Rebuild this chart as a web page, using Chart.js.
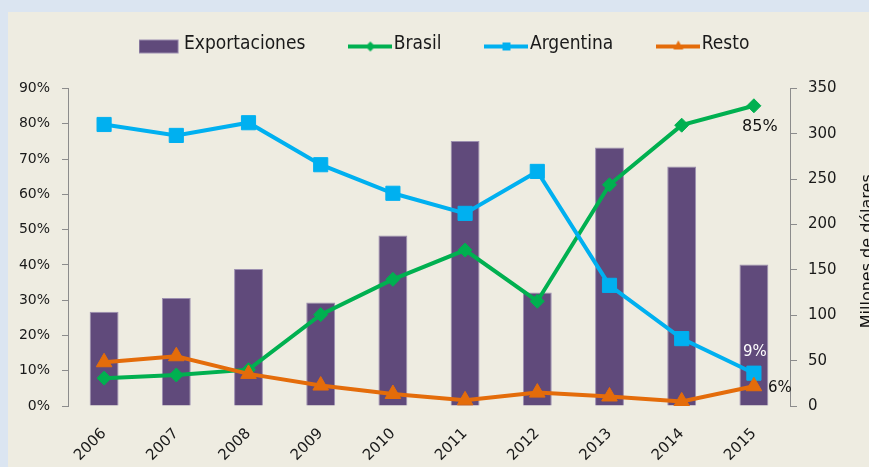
<!DOCTYPE html>
<html><head><meta charset="utf-8">
<script src="https://cdn.jsdelivr.net/npm/chart.js@4"></script>
<style>
html,body{margin:0;padding:0;background:#dbe5f1;overflow:hidden;width:869px;height:467px;}
#panel{position:absolute;left:8px;top:12px;width:880px;height:455px;background:#eeece1;}
canvas{display:block;}
</style></head><body>
<div id="panel"><canvas id="c" width="880" height="455"></canvas></div>
<script>
const categories = ['2006','2007','2008','2009','2010','2011','2012','2013','2014','2015'];
const exportaciones = [104,119,151,114,188,292,125,285,264,156];
const brasil = [7.9,8.8,10.3,25.9,35.9,44.2,29.7,62.7,79.6,85.1];
const argentina = [79.8,76.7,80.3,68.4,60.3,54.6,66.5,34.2,19.1,9.3];
const resto = [12.4,14.1,9.1,5.8,3.4,1.6,3.8,2.7,1.3,5.6];
const seriesNames = ['Exportaciones','Brasil','Argentina','Resto'];
const colors = {bar:'#604a7b', brasil:'#00b050', argentina:'#00b0f0', resto:'#e46c0a'};
const leftMax = 90, leftStep = 10, rightMax = 350, rightStep = 50;
const rightTitle = 'Millones de dólares';

function icon(kind, color){
  const c = document.createElement('canvas');
  c.width = 44; c.height = 22;
  const g = c.getContext('2d');
  const cy = 13;
  if (kind === 'box'){
    g.fillStyle = color; g.fillRect(0, cy-7, 40, 14);
    g.strokeStyle = '#9c8fb0'; g.lineWidth = 1; g.strokeRect(0.5, cy-6.5, 39, 13);
    return c;
  }
  g.strokeStyle = color; g.lineWidth = 4;
  g.beginPath(); g.moveTo(0, cy); g.lineTo(44, cy); g.stroke();
  g.fillStyle = color;
  g.beginPath();
  if (kind === 'diamond'){ g.moveTo(22, cy-5); g.lineTo(27, cy); g.lineTo(22, cy+5); g.lineTo(17, cy); }
  else if (kind === 'square'){ g.rect(18, cy-4, 8, 8); }
  else { g.moveTo(22, cy-6); g.lineTo(27, cy+3); g.lineTo(17, cy+3); }
  g.closePath(); g.fill();
  return c;
}
const icons = [icon('box',colors.bar), icon('diamond',colors.brasil), icon('square',colors.argentina), icon('tri',colors.resto)];

const valueLabels = {
  id:'valueLabels',
  afterDatasetsDraw(chart){
    const ctx = chart.ctx, i = categories.length - 1;
    const pb = chart.getDatasetMeta(1).data[i];
    const pa = chart.getDatasetMeta(2).data[i];
    const pr = chart.getDatasetMeta(3).data[i];
    ctx.save();
    ctx.textAlign = 'center'; ctx.textBaseline = 'middle';
    ctx.font = '16px "DejaVu Sans"'; ctx.fillStyle = '#111';
    ctx.fillText(Math.round(brasil[i]) + '%', pb.x + 6, pb.y + 21);
    ctx.font = '15px "DejaVu Sans"'; ctx.fillStyle = '#ffffff';
    ctx.fillText(Math.round(argentina[i]) + '%', pa.x + 1, pa.y - 21);
    ctx.fillStyle = '#111';
    ctx.fillText(Math.round(resto[i]) + '%', pr.x + 26, pr.y + 2);
    ctx.restore();
  }
};
const rightTitlePlugin = {
  id:'rightTitle',
  afterDraw(chart){
    const ctx = chart.ctx, a = chart.chartArea;
    ctx.save();
    ctx.translate(a.right + 81.5, (a.top + a.bottom)/2 + 4);
    ctx.rotate(-Math.PI/2);
    ctx.font = '16px "DejaVu Sans"'; ctx.fillStyle = '#111';
    ctx.textAlign = 'center'; ctx.textBaseline = 'alphabetic';
    ctx.fillText(rightTitle, 0, 0);
    ctx.restore();
  }
};

const tickFont = {family:'DejaVu Sans', size:14};
new Chart(document.getElementById('c'), {
  type:'bar',
  data:{
    labels: categories,
    datasets:[
      {type:'bar', label:seriesNames[0], data:exportaciones, yAxisID:'y1', backgroundColor:colors.bar, borderColor:'#9c8fb0', borderWidth:1, barPercentage:0.4, categoryPercentage:1, order:4},
      {type:'line', label:seriesNames[1], data:brasil, yAxisID:'y', borderColor:colors.brasil, backgroundColor:colors.brasil, borderWidth:4, pointStyle:'rectRot', pointRadius:7, pointBorderWidth:1, tension:0, order:3},
      {type:'line', label:seriesNames[2], data:argentina, yAxisID:'y', borderColor:colors.argentina, backgroundColor:colors.argentina, borderWidth:4, pointStyle:'rect', pointRadius:10, pointBorderWidth:1, tension:0, order:2},
      {type:'line', label:seriesNames[3], data:resto, yAxisID:'y', borderColor:colors.resto, backgroundColor:colors.resto, borderWidth:4, pointStyle:'triangle', pointRadius:9, pointBorderWidth:1, tension:0, order:1}
    ]
  },
  options:{
    responsive:false, animation:false, devicePixelRatio:1,
    layout:{padding:{top:-28, left:0, right:0, bottom:0}},
    plugins:{
      tooltip:{enabled:false},
      title:{display:true, text:'', weight:500, padding:{top:23.3, bottom:0}, font:{size:1}},
      legend:{
        position:'top',
        labels:{
          usePointStyle:true, pointStyleWidth:28, padding:51,
          font:{family:'DejaVu Sans Condensed', size:19}, color:'#1a1a1a',
          generateLabels(){
            return seriesNames.map((n,i)=>({text:n, pointStyle:icons[i], fillStyle:'rgba(0,0,0,0)', strokeStyle:'rgba(0,0,0,0)', lineWidth:0, hidden:false, datasetIndex:i, fontColor:'#1a1a1a'}));
          }
        }
      }
    },
    scales:{
      x:{
        grid:{display:false}, border:{display:false},
        ticks:{minRotation:45, maxRotation:45, autoSkip:false, font:{family:'DejaVu Sans', size:15}, color:'#1a1a1a', padding:11},
        afterFit(s){ s.height = 61; }
      },
      y:{
        position:'left', min:0, max:leftMax,
        ticks:{stepSize:leftStep, callback:v=>v+'%', font:tickFont, color:'#1a1a1a', padding:12},
        grid:{drawOnChartArea:false, tickLength:6, color:'#8c8c8c'},
        border:{color:'#8c8c8c'},
        afterFit(s){ s.width = 60; }
      },
      y1:{
        position:'right', min:0, max:rightMax,
        ticks:{stepSize:rightStep, font:{family:'DejaVu Sans', size:15}, color:'#1a1a1a', padding:11},
        grid:{drawOnChartArea:false, tickLength:7, color:'#8c8c8c'},
        border:{color:'#8c8c8c'},
        afterFit(s){ s.width = 98; }
      }
    }
  },
  plugins:[valueLabels, rightTitlePlugin]
});
</script>
</body></html>
